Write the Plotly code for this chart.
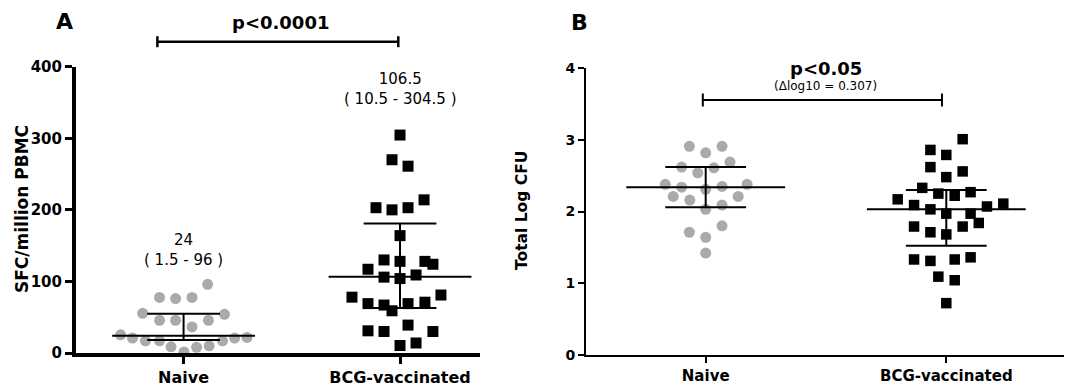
import plotly.graph_objects as go

# ---------------- data ----------------
categories = ["Naive", "BCG-vaccinated"]

# Panel A: SFC/million PBMC
a_naive_vals = [96, 77.6, 76, 77.6, 55.4, 54, 45.7, 45.7, 36.5, 45.7, 25.4, 20.8, 17, 17, 8.7, 1.5, 7.9, 10, 17, 20.8, 21.7]
a_naive_jit = [0.111, -0.111, -0.037, 0.039, -0.189, 0.189, -0.111, -0.037, 0.039, 0.115, -0.291, -0.236, -0.176, -0.111, -0.058, 0.002, 0.06, 0.118, 0.18, 0.236, 0.293]
a_bcg_vals = [304.5, 270, 261, 214, 203, 200, 203, 164, 130, 128, 128, 124, 117, 106, 104, 109, 78, 69, 67, 59, 69, 71, 81, 31, 30, 39, 30, 14, 10.5]
a_bcg_jit = [0, -0.037, 0.037, 0.111, -0.111, -0.037, 0.037, 0, -0.074, 0, 0.115, 0.152, -0.148, -0.074, 0, 0.074, -0.222, -0.148, -0.074, -0.037, 0.037, 0.115, 0.189, -0.148, -0.074, 0.037, 0.152, 0.074, 0]
a_median = [24, 106.5]
a_q1 = [18, 63]
a_q3 = [55, 181]
a_labels = ["24<br>( 1.5 - 96 )", "106.5<br>( 10.5 - 304.5 )"]
a_label_y = [144, 369]
a_p_text = "p<0.0001"

# Panel B: Total Log CFU
b_naive_vals = [2.91, 2.91, 2.82, 2.69, 2.62, 2.61, 2.54, 2.38, 2.34, 2.31, 2.35, 2.38, 2.21, 2.16, 2.21, 2.03, 2.09, 1.71, 1.80, 1.64, 1.42]
b_naive_jit = [-0.068, 0.068, 0, 0.101, -0.1, 0.034, -0.033, -0.168, -0.1, 0, 0.068, 0.172, -0.135, -0.066, 0.135, 0, 0.068, -0.068, 0.068, 0, 0]
b_bcg_vals = [3.01, 2.86, 2.79, 2.62, 2.56, 2.48, 2.33, 2.25, 2.22, 2.27, 2.17, 2.09, 2.03, 1.97, 1.97, 2.07, 2.11, 1.84, 1.79, 1.79, 1.71, 1.68, 1.33, 1.31, 1.33, 1.36, 1.09, 1.04, 0.72]
b_bcg_jit = [0.068, -0.066, 0, -0.066, 0.068, 0, -0.1, -0.033, 0.035, 0.101, -0.202, -0.134, -0.066, 0, 0.101, 0.169, 0.237, 0.135, -0.134, 0.068, -0.066, 0, -0.134, -0.066, 0.035, 0.101, -0.033, 0.035, 0]
b_median = [2.34, 2.03]
b_q1 = [2.06, 1.52]
b_q3 = [2.62, 2.30]
b_p_text = "p<0.05"
b_delta_text = "(\u0394log10 = 0.307)"

BOLD_FONT = "DejaVu Sans, Verdana, sans-serif"
TEXT_FONT = "DejaVu Sans, sans-serif"
GRAY = "#aaaaaa"
W, H = 1072, 387
OFF = 8  # page body margin offset


def px_x(p):
    return (p - OFF) / W


def px_y(p):
    return (H - (p - OFF)) / H


def summary_xy(med, q1, q3, half_med=0.33, half_cap=0.168):
    xs, ys = [], []
    for i, (m, lo, hi) in enumerate(zip(med, q1, q3)):
        xs += [i - half_med, i + half_med, None]
        ys += [m, m, None]
        xs += [i - half_cap, i + half_cap, None]
        ys += [hi, hi, None]
        xs += [i - half_cap, i + half_cap, None]
        ys += [lo, lo, None]
        xs += [i, i, None]
        ys += [lo, hi, None]
    return xs, ys


fig = go.Figure()

# Panel A points
fig.add_trace(go.Scatter(x=[0 + j for j in a_naive_jit], y=a_naive_vals, mode="markers",
                         marker=dict(symbol="circle", size=11, color=GRAY),
                         cliponaxis=False, xaxis="x", yaxis="y", showlegend=False, hoverinfo="y"))
fig.add_trace(go.Scatter(x=[1 + j for j in a_bcg_jit], y=a_bcg_vals, mode="markers",
                         marker=dict(symbol="square", size=11, color="black"),
                         cliponaxis=False, xaxis="x", yaxis="y", showlegend=False, hoverinfo="y"))
sx, sy = summary_xy(a_median, a_q1, a_q3)
fig.add_trace(go.Scatter(x=sx, y=sy, mode="lines", line=dict(color="black", width=2),
                         xaxis="x", yaxis="y", showlegend=False, hoverinfo="skip"))

# Panel B points
fig.add_trace(go.Scatter(x=[0 + j for j in b_naive_jit], y=b_naive_vals, mode="markers",
                         marker=dict(symbol="circle", size=11, color=GRAY),
                         cliponaxis=False, xaxis="x2", yaxis="y2", showlegend=False, hoverinfo="y"))
fig.add_trace(go.Scatter(x=[1 + j for j in b_bcg_jit], y=b_bcg_vals, mode="markers",
                         marker=dict(symbol="square", size=10.5, color="black"),
                         cliponaxis=False, xaxis="x2", yaxis="y2", showlegend=False, hoverinfo="y"))
sx, sy = summary_xy(b_median, b_q1, b_q3)
fig.add_trace(go.Scatter(x=sx, y=sy, mode="lines", line=dict(color="black", width=2),
                         xaxis="x2", yaxis="y2", showlegend=False, hoverinfo="skip"))

common = dict(showgrid=False, zeroline=False, automargin=False, fixedrange=True,
              tickcolor="black", linecolor="black", showline=True, ticks="outside")

fig.update_layout(
    width=W, height=H,
    margin=dict(l=0, r=0, t=0, b=0, autoexpand=False),
    paper_bgcolor="white", plot_bgcolor="white",
    font=dict(family=TEXT_FONT, color="black"),
    xaxis=dict(domain=[px_x(76), px_x(480)], range=[-0.497, 1.3695],
               tickvals=[0, 1], ticktext=categories, ticklen=7, tickwidth=3, linewidth=4,
               tickfont=dict(family=BOLD_FONT, size=16, color="black", weight="bold"),
               anchor="y", **common),
    yaxis=dict(domain=[px_y(353), px_y(66.7)], range=[0, 400],
               tickvals=[0, 100, 200, 300, 400], ticklen=7, tickwidth=3, linewidth=4,
               tickfont=dict(family=BOLD_FONT, size=15, color="black", weight="bold"),
               anchor="x", **common),
    xaxis2=dict(domain=[px_x(586), px_x(1067)], range=[-0.4975, 1.5017],
                tickvals=[0, 1], ticktext=categories, ticklen=6, tickwidth=2, linewidth=2,
                tickfont=dict(family=BOLD_FONT, size=15, color="black", weight="bold"),
                anchor="y2", **common),
    yaxis2=dict(domain=[px_y(354.7), px_y(68.3)], range=[0, 4],
                tickvals=[0, 1, 2, 3, 4], ticklen=6, tickwidth=2, linewidth=2,
                tickfont=dict(family=BOLD_FONT, size=14, color="black", weight="bold"),
                anchor="x2", **common),
)


# Significance bars
def sig_bar(xref, x0, x1, ypx, cap, width):
    return [
        dict(type="line", xref=xref, yref="paper", x0=x0, x1=x1, y0=px_y(ypx), y1=px_y(ypx),
             line=dict(color="black", width=width)),
        dict(type="line", xref=xref, yref="paper", x0=x0, x1=x0, y0=px_y(ypx - cap), y1=px_y(ypx + cap),
             line=dict(color="black", width=width)),
        dict(type="line", xref=xref, yref="paper", x0=x1, x1=x1, y0=px_y(ypx - cap), y1=px_y(ypx + cap),
             line=dict(color="black", width=width)),
    ]


shapes = sig_bar("x", -0.121, 0.992, 41.7, 5.5, 2.5) + sig_bar("x2", -0.012, 0.982, 100, 6.5, 2)
fig.update_layout(shapes=shapes)


def label(text, xref, yref, x, y, size, angle=0, family=BOLD_FONT):
    return dict(text=text, xref=xref, yref=yref, x=x, y=y, xanchor="center", yanchor="middle",
                showarrow=False, textangle=angle, font=dict(size=size, family=family, color="black"))


ann = [
    label("<b>A</b>", "paper", "paper", px_x(64), px_y(22), 22),
    label("<b>B</b>", "paper", "paper", px_x(579), px_y(22.5), 22),
    label("<b>SFC/million PBMC</b>", "paper", "paper", px_x(22), px_y(209), 17, -90),
    label("<b>Total Log CFU</b>", "paper", "paper", px_x(522), px_y(211), 15.5, -90),
    label("<b>" + a_p_text + "</b>", "x", "paper", (-0.121 + 0.992) / 2 + 0.01, px_y(23), 18),
    label("<b>" + b_p_text + "</b>", "x2", "paper", (-0.012 + 0.982) / 2 + 0.015, px_y(68.5), 18),
    label(b_delta_text, "x2", "paper", (-0.012 + 0.982) / 2 + 0.015, px_y(86.5), 12, family=TEXT_FONT),
]
for i, (t, yv) in enumerate(zip(a_labels, a_label_y)):
    ann.append(label(t, "x", "y", i, yv, 15, family=TEXT_FONT))
fig.update_layout(annotations=ann)

fig.write_html("out.html")
